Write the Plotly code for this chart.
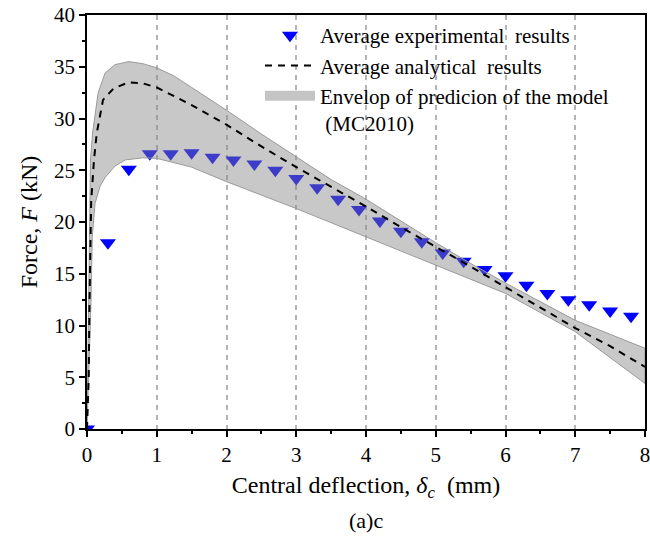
import plotly.graph_objects as go

# Experimental (average) results
exp_x = [0, 0.3, 0.6, 0.9, 1.2, 1.5, 1.8, 2.1, 2.4, 2.7, 3.0, 3.3, 3.6, 3.9,
         4.2, 4.5, 4.8, 5.1, 5.4, 5.7, 6.0, 6.3, 6.6, 6.9, 7.2, 7.5, 7.8]
exp_F = [0, 18.0, 25.1, 26.6, 26.6, 26.7, 26.25, 26.0, 25.6, 25.0, 24.2, 23.3,
         22.2, 21.2, 20.1, 19.1, 18.1, 17.0, 16.2, 15.4, 14.8, 13.9, 13.1, 12.5,
         12.0, 11.4, 10.9]

# Average analytical results
ana_x = [0, 0.025, 0.035, 0.045, 0.06, 0.1, 0.14, 0.23, 0.38, 0.6, 0.8, 1.0,
         1.5, 2.0, 2.5, 3.0, 3.5, 4.0, 4.5, 5.0, 5.5, 6.0, 6.5, 7.0, 7.5, 8.0]
ana_F = [0, 5, 12, 18, 22, 26, 28.6, 31.8, 32.9, 33.5, 33.4, 33.0,
         31.3, 29.4, 27.3, 25.3, 23.4, 21.5, 19.5, 17.6, 15.7, 13.7, 11.7,
         9.75, 8.0, 6.0]

# Envelope of prediction (upper / lower bounds)
up_x = [0, 0.015, 0.025, 0.035, 0.05, 0.08, 0.115, 0.16, 0.26, 0.4, 0.6, 0.8,
        1.0, 1.25, 1.5, 2.0, 2.5, 3.0, 3.5, 4.0, 4.5, 5.0, 5.5, 6.0, 7.0, 8.0]
up_F = [0, 8, 16, 22, 26, 28.6, 30.5, 32.5, 34.4, 35.2, 35.5, 35.3,
        34.9, 34.1, 33.0, 30.8, 28.5, 26.3, 24.1, 22.2, 20.1, 18.0, 16.0, 14.1,
        10.5, 7.8]
lo_x = [0, 0.03, 0.057, 0.076, 0.115, 0.19, 0.26, 0.4, 0.55, 0.8, 1.0, 1.5,
        2.0, 3.0, 4.0, 5.0, 6.0, 7.0, 8.0]
lo_F = [0, 6, 12.2, 18.6, 21.8, 23.5, 24.3, 25.4, 26.0, 26.2, 26.15, 25.3,
        23.9, 21.3, 18.6, 15.85, 13.1, 9.4, 4.4]

x_ticks = [0, 1, 2, 3, 4, 5, 6, 7, 8]
y_ticks = [0, 5, 10, 15, 20, 25, 30, 35, 40]

FONT = "Liberation Serif, Times New Roman, serif"

band_x = up_x + lo_x[::-1]
band_y = up_F + lo_F[::-1]

fig = go.Figure()
fig.add_trace(go.Scatter(
    x=exp_x, y=exp_F, mode="markers", name="Average experimental\u00a0\u00a0results",
    marker=dict(symbol="triangle-down", size=14, color="#0000ff"),
    legendrank=1,
))
fig.add_trace(go.Scatter(
    x=band_x, y=band_y, mode="lines", fill="toself",
    fillcolor="rgba(133,133,133,0.45)",
    line=dict(color="#9a9a9a", width=1),
    showlegend=False, hoverinfo="skip",
))
fig.add_trace(go.Scatter(
    x=ana_x, y=ana_F, mode="lines", name="Average analytical\u00a0\u00a0results",
    line=dict(color="black", width=2, dash="7px,6px"),
    legendrank=2,
))
# legend-only entry for the envelope (box-like symbol)
fig.add_trace(go.Scatter(
    x=[None], y=[None], mode="lines",
    line=dict(color="#c4c4c4", width=18),
    name="Envelop of predicion of the model<br>\u00a0(MC2010)",
    legendrank=3,
))

fig.update_layout(
    width=650, height=537,
    margin=dict(l=87, r=5, t=15, b=108, autoexpand=False),
    paper_bgcolor="white", plot_bgcolor="white",
    font=dict(family=FONT, size=20, color="black"),
    showlegend=True,
    legend=dict(
        x=0.31, y=1.0, xanchor="left", yanchor="top",
        bgcolor="rgba(0,0,0,0)", font=dict(family=FONT, size=21, color="black"),
        valign="top", itemwidth=50, tracegroupgap=0,
    ),
    shapes=[dict(type="rect", xref="x", yref="y", x0=3.55, x1=7.98, y0=29.1, y1=39.5,
                 fillcolor="white", line=dict(width=0), layer="below")],
    xaxis=dict(
        range=[0, 8], tickvals=x_ticks, ticktext=[str(v) for v in x_ticks],
        showline=True, linecolor="black", linewidth=1.5, mirror=True,
        ticks="outside", ticklen=6, tickwidth=1.5, tickcolor="black",
        minor=dict(ticks="outside", ticklen=3, tickwidth=1.5, tickcolor="black",
                   dtick=0.5, tick0=0, showgrid=False),
        showgrid=True, gridcolor="#b4b4b4", gridwidth=1.5, griddash="5px,5px",
        zeroline=False, ticklabeloverflow="allow",
        tickfont=dict(family=FONT, size=21),
        title=dict(text="Central deflection, <i>δ<sub>c</sub></i>\u00a0\u00a0(mm)",
                   font=dict(family=FONT, size=24), standoff=10),
    ),
    yaxis=dict(
        range=[0, 40], tickvals=y_ticks, ticktext=[str(v) for v in y_ticks],
        showline=True, linecolor="black", linewidth=1.5, mirror=True,
        ticks="outside", ticklen=6, tickwidth=1.5, tickcolor="black",
        minor=dict(ticks="outside", ticklen=3, tickwidth=1.5, tickcolor="black",
                   dtick=2.5, tick0=0, showgrid=False),
        showgrid=False, zeroline=False, ticklabeloverflow="allow",
        tickfont=dict(family=FONT, size=21),
        title=dict(text="Force, <i>F</i> (kN)", font=dict(family=FONT, size=24),
                   standoff=10),
    ),
    annotations=[dict(
        text="(a)c", x=0.5, y=-0.222, xref="paper", yref="paper",
        xanchor="center", yanchor="middle", showarrow=False,
        font=dict(family=FONT, size=22, color="black"),
    )],
)

fig.write_html("out.html", config={"displayModeBar": False},
               post_script="document.body.style.margin='0';")
